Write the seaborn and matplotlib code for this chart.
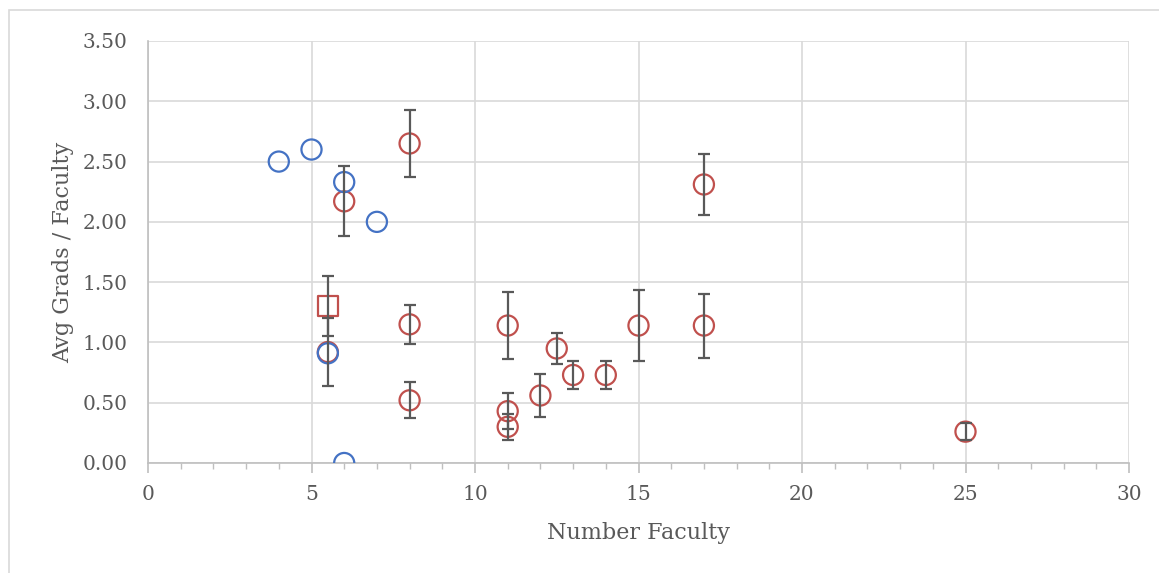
import matplotlib
matplotlib.use('Agg')
import matplotlib.pyplot as plt
from matplotlib.patches import Rectangle
from matplotlib.ticker import MultipleLocator, FormatStrFormatter
import seaborn as sns
import pandas as pd

# Blue series (no error bars)
blue_x = [4, 5, 6, 7, 5.5, 6]
blue_y = [2.50, 2.60, 2.33, 2.00, 0.91, 0.00]

# Red circles with error bars
red_x = [8, 6, 17, 5.5, 8, 8, 11, 12.5, 13, 14, 12, 11, 11, 15, 17, 25]
red_y = [2.65, 2.17, 2.31, 0.92, 1.15, 0.52, 1.14, 0.95, 0.73, 0.73, 0.56, 0.43, 0.30, 1.14, 1.14, 0.26]
red_err = [0.28, 0.29, 0.25, 0.28, 0.16, 0.15, 0.28, 0.13, 0.12, 0.115, 0.18, 0.15, 0.11, 0.295, 0.265, 0.07]

# Red square with error bar
sq_x = [5.5]
sq_y = [1.30]
sq_err = [0.25]

blue_c = '#4472C4'
red_c = '#C0504D'
err_c = '#595959'
txt_c = '#595959'

sns.set_theme(style='white')
plt.rcParams['font.family'] = ['DejaVu Serif']

fig = plt.figure(figsize=(11.59, 5.73), dpi=100)
ax = fig.add_axes([148 / 1159, 1 - 463 / 573, (1129 - 148) / 1159, (463 - 41) / 573])

# outer chart border
fig.patches.append(Rectangle((9 / 1159, -0.01), 1.2, 1 - 10 / 573 + 0.01, transform=fig.transFigure,
                             fill=False, edgecolor='#d9d9d9', linewidth=1.2, zorder=0))

red_df = pd.DataFrame({'x': red_x, 'y': red_y})
blue_df = pd.DataFrame({'x': blue_x, 'y': blue_y})
sq_df = pd.DataFrame({'x': sq_x, 'y': sq_y})

sns.scatterplot(data=red_df, x='x', y='y', ax=ax, marker='o', s=210, facecolor='none',
                edgecolor=red_c, linewidth=1.6, zorder=3)
sns.scatterplot(data=sq_df, x='x', y='y', ax=ax, marker='s', s=210, facecolor='none',
                edgecolor=red_c, linewidth=1.6, zorder=3)
sns.scatterplot(data=blue_df, x='x', y='y', ax=ax, marker='o', s=210, facecolor='none',
                edgecolor=blue_c, linewidth=1.6, zorder=4)

ax.errorbar(red_x, red_y, yerr=red_err, fmt='none', ecolor=err_c, elinewidth=1.6,
            capsize=4.5, capthick=1.6, zorder=5)
ax.errorbar(sq_x, sq_y, yerr=sq_err, fmt='none', ecolor=err_c, elinewidth=1.6,
            capsize=4.5, capthick=1.6, zorder=5)

ax.set_xlim(0, 30)
ax.set_ylim(0, 3.5)
ax.xaxis.set_major_locator(MultipleLocator(5))
ax.xaxis.set_minor_locator(MultipleLocator(1))
ax.yaxis.set_major_locator(MultipleLocator(0.5))
ax.yaxis.set_major_formatter(FormatStrFormatter('%.2f'))

ax.grid(True, which='major', color='#d9d9d9', linewidth=1.2)
ax.set_axisbelow(True)
for side in ['top', 'right']:
    ax.spines[side].set_visible(False)
for side in ['left', 'bottom']:
    ax.spines[side].set_color('#bfbfbf')
    ax.spines[side].set_linewidth(1.2)

ax.tick_params(axis='x', which='major', direction='out', length=7, width=1.2, color='#bfbfbf',
               bottom=True, labelsize=14.5, labelcolor=txt_c, pad=9)
ax.tick_params(axis='x', which='minor', direction='out', length=4, width=1.0, color='#bfbfbf', bottom=True)
ax.tick_params(axis='y', which='major', length=0, labelsize=14.5, labelcolor=txt_c, pad=15)

ax.set_xlabel('Number Faculty', fontsize=16, color=txt_c, labelpad=13)
ax.set_ylabel('Avg Grads / Faculty', fontsize=16, color=txt_c, labelpad=6)

fig.savefig('out.png', dpi=100)
